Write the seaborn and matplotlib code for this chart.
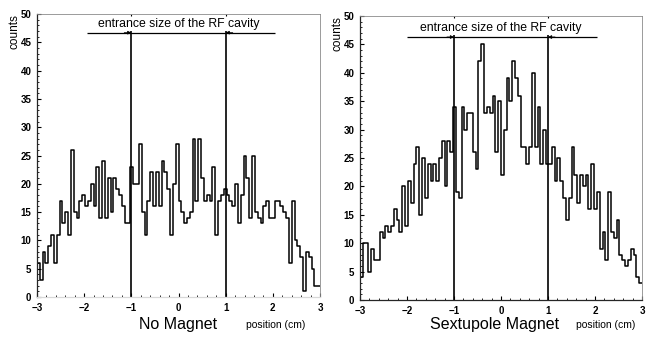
import numpy as np
import pandas as pd
import matplotlib
matplotlib.use("Agg")
import matplotlib.pyplot as plt
from matplotlib.ticker import MultipleLocator
import seaborn as sns

sns.set_style("ticks")
plt.rcParams["font.family"] = ["Liberation Sans", "DejaVu Sans"]
plt.rcParams.update({"text.color": "black", "axes.labelcolor": "black",
                     "xtick.color": "black", "ytick.color": "black"})

# 100 bins of 0.6 mm across the beam pipe
bin_edges = np.linspace(-3.0, 3.0, 101)

no_magnet_counts = [
    6, 3, 8, 6, 9, 11, 6, 11, 17, 13, 15, 11, 26, 15, 14, 17, 18, 16, 17, 20,
    16, 23, 14, 24, 14, 21, 15, 21, 19, 18, 16, 13, 13, 23, 20, 20, 27, 15, 11, 17,
    22, 16, 22, 16, 24, 22, 19, 11, 20, 27, 17, 15, 13, 14, 15, 28, 17, 28, 21, 17,
    18, 17, 23, 11, 17, 18, 19, 18, 17, 16, 20, 13, 18, 25, 21, 14, 25, 15, 14, 13,
    16, 17, 14, 14, 17, 17, 16, 15, 14, 6, 17, 10, 9, 7, 1, 8, 7, 5, 2, 2,
]

sextupole_counts = [
    4, 10, 10, 5, 9, 7, 7, 12, 11, 13, 12, 13, 16, 14, 12, 20, 13, 21, 17, 24,
    27, 15, 25, 18, 24, 21, 24, 21, 25, 28, 20, 28, 26, 34, 19, 18, 34, 30, 33, 33,
    26, 23, 42, 45, 33, 34, 33, 36, 26, 35, 22, 30, 39, 35, 42, 39, 36, 27, 27, 24,
    27, 40, 27, 34, 24, 30, 24, 24, 27, 21, 25, 21, 18, 14, 18, 27, 22, 17, 22, 20,
    22, 16, 24, 16, 19, 9, 12, 7, 19, 12, 11, 14, 8, 7, 6, 7, 9, 8, 4, 3,
]

panel_titles = ["No Magnet", "Sextupole Magnet"]
cavity_edges = [-1.0, 1.0]
cavity_label = "entrance size of the RF cavity"
x_ticks = [-3, -2, -1, 0, 1, 2, 3]
y_ticks = list(range(0, 55, 5))

bin_centers = 0.5 * (bin_edges[:-1] + bin_edges[1:])

fig = plt.figure(figsize=(6.48, 3.40), dpi=100)
panels = [
    ([37 / 648, 1 - 297 / 340, 283 / 648, 283 / 340], no_magnet_counts,
     46.7, (-1.95, 2.05), 178, 276),
    ([360 / 648, 1 - 300 / 340, 282 / 648, 284 / 340], sextupole_counts,
     46.3, (-2.0, 2.05), 495, 606),
]

for i, (rect, counts, arrow_y, arrow_span, title_px, unit_px) in enumerate(panels):
    ax = fig.add_axes(rect)
    df = pd.DataFrame({"position": bin_centers, "counts": counts})
    sns.histplot(data=df, x="position", weights="counts", bins=bin_edges.tolist(),
                 element="step", fill=False, color="black", linewidth=1.1, ax=ax)
    ax.set_xlim(-3, 3)
    ax.set_ylim(0, 50)
    ax.set_xticks(x_ticks)
    ax.set_yticks(y_ticks)
    ax.xaxis.set_minor_locator(MultipleLocator(0.2))
    ax.yaxis.set_minor_locator(MultipleLocator(1))
    ax.tick_params(axis="both", which="major", direction="in", length=3,
                   width=0.8, labelsize=7, pad=4)
    ax.tick_params(axis="both", which="minor", direction="in", length=1.5,
                   width=0.6)
    for lab in ax.get_xticklabels() + ax.get_yticklabels():
        lab.set_fontweight("bold")
    ax.set_xlabel("")
    ax.set_ylabel("counts", loc="top", fontsize=8.5, labelpad=0)

    for side in ("top", "right"):
        ax.spines[side].set_color("#8a8a8a")
        ax.spines[side].set_linewidth(0.6)
    ax.spines["left"].set_linewidth(0.9)
    ax.spines["bottom"].set_linewidth(0.9)
    if i == 0:
        ax.spines["bottom"].set_color("#d8d8d8")

    # cavity entrance markers
    ax.vlines(cavity_edges, 0, arrow_y + 0.3, color="black", linewidth=1.2)
    ax.hlines(arrow_y, arrow_span[0], arrow_span[1], color="black", linewidth=0.9)
    ax.annotate("", xy=(cavity_edges[0], arrow_y), xytext=(cavity_edges[0] - 0.15, arrow_y),
                arrowprops=dict(arrowstyle="-|>", color="black", lw=0.6,
                                mutation_scale=5, shrinkA=0, shrinkB=0))
    ax.annotate("", xy=(cavity_edges[1], arrow_y), xytext=(cavity_edges[1] + 0.15, arrow_y),
                arrowprops=dict(arrowstyle="-|>", color="black", lw=0.6,
                                mutation_scale=5, shrinkA=0, shrinkB=0))
    ax.vlines(cavity_edges, 49.6, 50, color="black", linewidth=0.8)
    ax.text(0, arrow_y + 1.6, cavity_label, ha="center", va="center", fontsize=8.8)

    fig.text(title_px / 648, 1 - 325 / 340, panel_titles[i], ha="center",
             va="center", fontsize=11.5)
    fig.text(unit_px / 648, 1 - 325 / 340, "position (cm)", ha="center",
             va="center", fontsize=7.5)

fig.savefig("out.png", dpi=100, facecolor="white")
